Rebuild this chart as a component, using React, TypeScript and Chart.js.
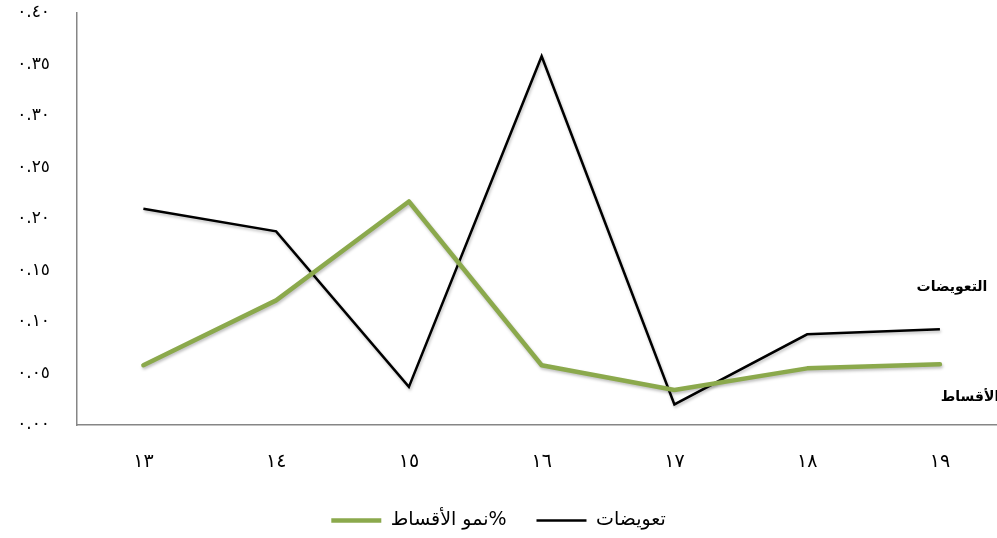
import React, { useEffect, useRef } from "react";
import { Chart, registerables } from "chart.js";

Chart.register(...registerables);

const xLabels = ["١٣", "١٤", "١٥", "١٦", "١٧", "١٨", "١٩"];
const yTickValues = [0, 0.05, 0.1, 0.15, 0.2, 0.25, 0.3, 0.35, 0.4];
const yTickLabels = ["٠.٠٠", "٠.٠٥", "٠.١٠", "٠.١٥", "٠.٢٠", "٠.٢٥", "٠.٣٠", "٠.٣٥", "٠.٤٠"];
const premiumGrowth = [0.058, 0.121, 0.217, 0.058, 0.034, 0.055, 0.059];
const compensation = [0.21, 0.188, 0.037, 0.358, 0.02, 0.088, 0.093];
const seriesNames = ["%نمو الأقساط", "تعويضات"];
const annotationLabels = ["التعويضات", "الأقساط"];

const GREEN = "#8BA94C";
const BLACK = "#000000";
const AXIS = "#868686";
const FONT = '"DejaVu Sans", "Liberation Serif", serif';

export default function App() {
  const ref = useRef<HTMLCanvasElement | null>(null);

  useEffect(() => {
    if (!ref.current) return;

    const shadowPlugin = {
      id: "shadow",
      beforeDatasetDraw(chart: any) {
        const ctx = chart.ctx;
        ctx.save();
        ctx.shadowColor = "rgba(0,0,0,0.25)";
        ctx.shadowBlur = 3;
        ctx.shadowOffsetX = 1;
        ctx.shadowOffsetY = 2;
      },
      afterDatasetDraw(chart: any) {
        chart.ctx.restore();
      },
    };

    const annotationPlugin = {
      id: "sideLabels",
      afterDraw(chart: any) {
        const ctx = chart.ctx;
        ctx.save();
        ctx.fillStyle = "#000";
        ctx.font = `bold 14px ${FONT}`;
        ctx.textAlign = "center";
        ctx.textBaseline = "middle";
        ctx.fillText(annotationLabels[0], 952, 287);
        ctx.fillText(annotationLabels[1], 970, 397);
        ctx.restore();
      },
    };

    const chart = new Chart(ref.current, {
      type: "line",
      data: {
        datasets: [
          {
            label: seriesNames[0],
            data: premiumGrowth.map((v, i) => ({ x: i, y: v })),
            borderColor: GREEN,
            backgroundColor: GREEN,
            borderWidth: 4.5,
            pointRadius: 0,
            pointStyle: "line",
            tension: 0,
            borderCapStyle: "round",
            borderJoinStyle: "round",
          },
          {
            label: seriesNames[1],
            data: compensation.map((v, i) => ({ x: i, y: v })),
            borderColor: BLACK,
            backgroundColor: BLACK,
            borderWidth: 2.5,
            pointRadius: 0,
            pointStyle: "line",
            tension: 0,
            borderJoinStyle: "miter",
          },
        ],
      },
      options: {
        animation: false,
        responsive: false,
        maintainAspectRatio: false,
        layout: { padding: { top: 13, left: 0, right: 0, bottom: -2 } },
        scales: {
          x: {
            type: "linear",
            min: -0.5,
            max: 6.43,
            afterBuildTicks: (s: any) => {
              s.ticks = xLabels.map((_, i) => ({ value: i }));
            },
            afterFit: (s: any) => {
              s.height = 56;
              s.paddingLeft = 0;
              s.paddingRight = 0;
              s.paddingTop = 0;
              s.paddingBottom = 0;
            },
            grid: { display: false, drawTicks: false },
            border: { display: true, color: AXIS, width: 1.5 },
            ticks: {
              padding: 26,
              color: "#000",
              font: { size: 19, family: FONT },
              maxRotation: 0,
              autoSkip: false,
              callback: (v: any) => xLabels[v] ?? "",
            },
          },
          y: {
            min: 0,
            max: 0.4,
            afterBuildTicks: (s: any) => {
              s.ticks = yTickValues.map((v) => ({ value: v }));
            },
            afterFit: (s: any) => {
              s.width = 77;
              s.paddingTop = 0;
              s.paddingBottom = 0;
              s.paddingLeft = 0;
              s.paddingRight = 0;
            },
            grid: { display: false, drawTicks: false },
            border: { display: true, color: AXIS, width: 1.5 },
            ticks: {
              padding: 27,
              color: "#000",
              font: { size: 17, family: FONT },
              callback: (_v: any, i: number) => yTickLabels[i] ?? "",
            },
          },
        },
        plugins: {
          legend: {
            display: true,
            position: "bottom",
            textDirection: "rtl",
            labels: {
              usePointStyle: true,
              pointStyleWidth: 50,
              color: "#000",
              font: { size: 19, family: FONT },
              padding: 30,
            },
          },
          tooltip: { enabled: false },
        },
      },
      plugins: [shadowPlugin, annotationPlugin],
    } as any);

    return () => chart.destroy();
  }, []);

  return (
    <div style={{ position: "fixed", left: 0, top: 0, width: 997, height: 538, background: "#fff" }}>
      <canvas ref={ref} width={997} height={538} style={{ width: 997, height: 538 }} />
    </div>
  );
}
